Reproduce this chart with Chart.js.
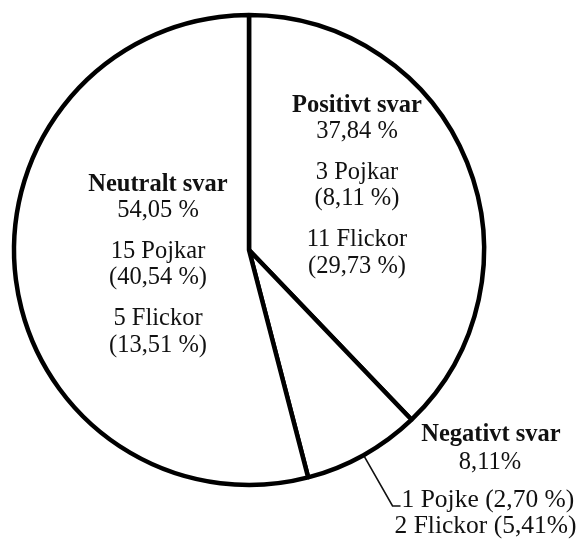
<!DOCTYPE html>
<html>
<head>
<meta charset="utf-8">
<script src="https://cdn.jsdelivr.net/npm/chart.js@4/dist/chart.umd.min.js"></script>
<style>
  html, body { margin: 0; padding: 0; background: #fff; }
  #wrap { position: relative; width: 582px; height: 540px; }
</style>
</head>
<body>
<div id="wrap"><canvas id="pie"></canvas></div>
<script>
// answers, clockwise from 12 o'clock
const categories = ['Positivt svar', 'Negativt svar', 'Neutralt svar']
const percents = [37.84, 8.11, 54.05]
const percentLabels = ['37,84 %', '8,11%', '54,05 %']
const positivtDetails = ['3 Pojkar', '(8,11 %)', '11 Flickor', '(29,73 %)']
const neutraltDetails = ['15 Pojkar', '(40,54 %)', '5 Flickor', '(13,51 %)']
const negativtDetails = ['1 Pojke (2,70 %)', '2 Flickor (5,41%)']

const FONT = "'Liberation Serif', 'Times New Roman', serif"
const SIZE = 24.5
const INK = '#111'

// block of centered text: bold title, percent, then two pairs of lines
function drawBlock(ctx, x, y, s, title, pct, details) {
    ctx.textAlign = 'center'
    ctx.font = `bold ${SIZE * s}px ${FONT}`
    ctx.fillText(title, x, y)
    ctx.font = `${SIZE * s}px ${FONT}`
    ctx.fillText(pct, x, y + 26 * s)
    const offs = [67, 93, 134, 161]
    details.forEach((line, i) => ctx.fillText(line, x, y + offs[i] * s))
}

const labelPlugin = {
    id: 'sliceLabels',
    afterDraw(chart) {
        const arcs = chart.getDatasetMeta(0).data
        if (!arcs.length) return
        const { ctx } = chart
        const cx = arcs[0].x, cy = arcs[0].y
        const r = arcs[0].outerRadius
        const s = r / 235

        ctx.save()
        ctx.fillStyle = INK
        ctx.textBaseline = 'middle'

        drawBlock(ctx, cx + 108 * s, cy - 144 * s, s, categories[0], percentLabels[0], positivtDetails)
        drawBlock(ctx, cx - 91 * s, cy - 65 * s, s, categories[2], percentLabels[2], neutraltDetails)

        // negative slice sits outside, with a leader line
        const neg = arcs[1]
        const mid = (neg.startAngle + neg.endAngle) / 2
        const sx = cx + Math.cos(mid) * (r + 2)
        const sy = cy + Math.sin(mid) * (r + 2)
        const ex = sx + 28 * s, ey = sy + 49 * s
        ctx.strokeStyle = INK
        ctx.lineWidth = 1.6
        ctx.beginPath()
        ctx.moveTo(sx, sy)
        ctx.lineTo(ex, ey)
        ctx.lineTo(ex + 8 * s, ey)
        ctx.stroke()

        ctx.textAlign = 'center'
        ctx.font = `bold ${SIZE * s}px ${FONT}`
        ctx.fillText(categories[1], cx + 242 * s, cy + 185 * s)
        ctx.font = `${SIZE * s}px ${FONT}`
        ctx.fillText(percentLabels[1], cx + 241 * s, cy + 213 * s)
        ctx.textAlign = 'left'
        ctx.textBaseline = 'alphabetic'
        ctx.font = `${25.5 * s}px ${FONT}`
        ctx.fillText(negativtDetails[0], ex + 9 * s, ey + 1)
        ctx.fillText(negativtDetails[1], ex + 2 * s, ey + 27 * s)
        ctx.restore()
    }
}

new Chart(document.getElementById('pie'), {
    type: 'pie',
    data: {
        labels: categories,
        datasets: [{
            data: percents,
            backgroundColor: '#fff',
            borderColor: '#000',
            borderWidth: 4.5,
            hoverBorderWidth: 4.5
        }]
    },
    options: {
        responsive: true,
        maintainAspectRatio: false,
        animation: false,
        layout: { padding: { left: 11.75, top: 12.75, right: 95.75, bottom: 52.75 } },
        plugins: { legend: { display: false }, tooltip: { enabled: false } }
    },
    plugins: [labelPlugin]
})
</script>
</body>
</html>
